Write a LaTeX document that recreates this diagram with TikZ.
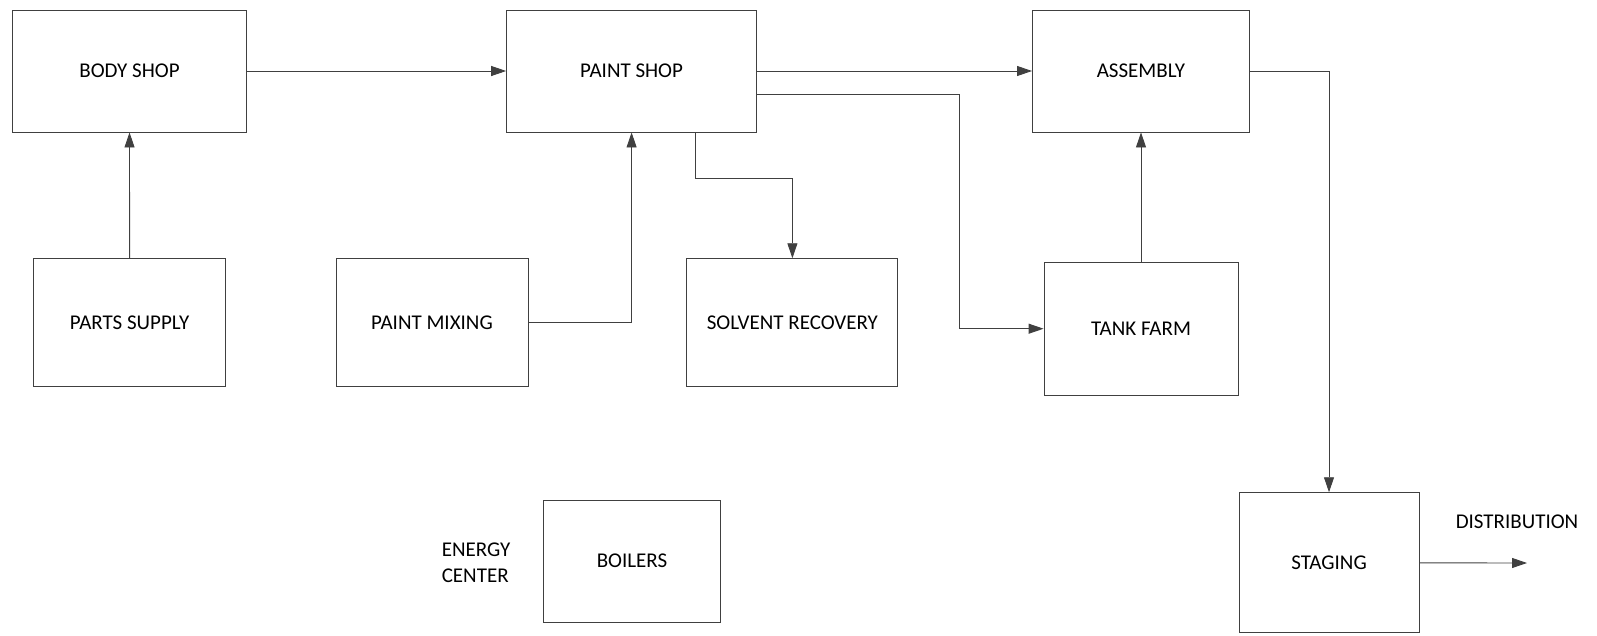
\documentclass[tikz,border=0pt]{standalone}
\usepackage{fontspec}
\setmainfont{Carlito}
\usetikzlibrary{arrows.meta}

\tikzset{
  unit/.style={draw=black!75, line width=0.9pt, inner sep=0pt,
    font=\fontsize{21}{25}\selectfont},
  flow/.style={draw=black!75, line width=0.9pt,
    -{Triangle[length=15pt,width=10pt]}},
}

\begin{document}
\begin{tikzpicture}[x=1pt, y=-1pt]
  \useasboundingbox (0,0) rectangle (1597,635);
  % top row
  \node[unit, minimum width=234pt, minimum height=122pt] (body) at (129.5,71) {BODY SHOP};
  \node[unit, minimum width=250pt, minimum height=122pt] (paint) at (631.6,71) {PAINT SHOP};
  \node[unit, minimum width=217pt, minimum height=122pt] (assembly) at (1141,71) {ASSEMBLY};
  % middle row
  \node[unit, minimum width=192pt, minimum height=128pt] (parts) at (129.6,322.7) {PARTS SUPPLY};
  \node[unit, minimum width=192pt, minimum height=128pt] (mixing) at (432,322.7) {PAINT MIXING};
  \node[unit, minimum width=211pt, minimum height=128pt] (solvent) at (792.4,322.7) {SOLVENT RECOVERY};
  \node[unit, minimum width=194pt, minimum height=133pt] (tank) at (1141,328.7) {TANK FARM};
  % bottom row
  \node[unit, minimum width=177pt, minimum height=122pt] (boilers) at (632,561) {BOILERS};
  \node[font=\fontsize{21}{26}\selectfont, align=left] (energy) at (476,563) {ENERGY\\CENTER};
  \node[unit, minimum width=180pt, minimum height=140pt] (staging) at (1329,562.7) {STAGING};
  \node[font=\fontsize{21}{25}\selectfont] (distlabel) at (1517,521.7) {DISTRIBUTION};
  \coordinate (dist) at (1527,563);

  \draw[flow] (body) -- (paint);
  \draw[flow] (parts) -- (body);
  \draw[flow] (mixing) -| (paint);
  \draw[flow] ([xshift=64pt]paint.south) -- ++(0,46) -| (solvent.north);
  \draw[flow] (paint) -- (assembly);
  \draw[flow] ([yshift=-23pt]paint.east) -- ++(202,0) |- (tank);
  \draw[flow] (tank) -- (assembly);
  \draw[flow] (assembly) -| (staging);
  \draw[flow] (staging) -- (dist);
\end{tikzpicture}
\end{document}
